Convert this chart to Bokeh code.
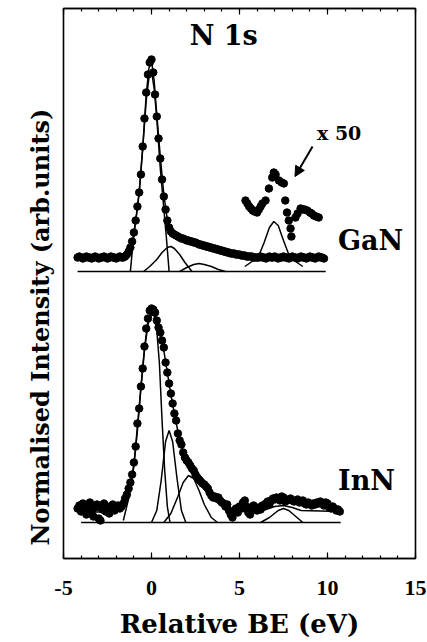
from bokeh.plotting import figure
from bokeh.models import (Range1d, LinearAxis, SingleIntervalTicker, Label, Arrow,
                          NormalHead, Title, CustomJSTickFormatter)
from bokeh.embed import file_html
from bokeh.resources import INLINE

# ---------------- data (relative BE in eV, intensity in arbitrary units) -------------
x_ticks_interval = 5

# GaN experimental points (energy grid 0.1 eV)
gan_x = [round(-4.2 + 0.1 * i, 1) for i in range(141)]
gan_y = [301, 302, 301, 300, 301, 302, 301, 301, 300, 301, 302, 301, 300, 301, 301, 302,
         301, 300, 301, 302, 301, 301, 300, 301, 302, 301, 301,
         302, 304, 307, 311, 317, 326, 338, 352, 366, 384, 412, 440, 466, 484, 496, 499,
         486, 464, 442, 420, 400, 379, 362, 349, 338, 331, 327, 325, 324, 323, 322, 321,
         320, 320, 319, 318,
         318, 317, 317, 316, 316, 315, 314, 314, 313, 313, 312, 312, 311, 311, 310, 310,
         309, 309, 308, 308,
         307, 307, 306, 306, 305, 305, 305, 304, 304, 304, 303, 303, 303, 302, 302, 302,
         302, 301, 301, 301,
         301, 302, 301, 301, 300, 301, 302, 301, 301, 302, 301, 300, 301, 301, 302, 301,
         301, 300, 301, 302, 301, 301, 300, 301, 302, 301, 301, 300, 301, 302, 301, 301,
         300, 301, 302, 301, 301, 300]

# GaN satellite region magnified x50
gan_x50_x = [5.34, 5.45, 5.55, 5.65, 5.75, 5.85, 6.0, 6.1, 6.2, 6.3, 6.48, 6.67, 6.86,
             6.95, 7.05, 7.24, 7.4, 7.52, 7.6, 7.7, 7.8, 7.9, 7.95, 8.18, 8.3, 8.47, 8.6,
             8.7, 8.85, 9.0, 9.1, 9.22, 9.35, 9.5]
gan_x50_y = [358, 355, 352, 350, 348, 347, 346, 349, 352, 355, 358, 370, 381, 386, 384,
             378, 376, 375, 358, 346, 338, 330, 322, 341, 345, 350, 349, 349, 348, 346,
             345, 343, 342, 341]

# GaN fit envelope and components
gan_fit_x = [-4.2, -1.6, -1.3, -1.1, -0.9, -0.7, -0.5, -0.3, -0.15, 0.0, 0.15, 0.3, 0.5,
             0.7, 0.9, 1.1, 1.5, 2.0, 3.0, 4.0, 5.0, 6.0, 9.8]
gan_fit_y = [301, 301, 306, 316, 337, 366, 410, 464, 490, 498, 478, 444, 402, 364, 339,
             327, 322, 318, 313, 308, 304, 301, 301]
gan_c1_x = [-1.2, -1.05, -0.9, -0.7, -0.5, -0.3, -0.15, 0.0, 0.15, 0.3, 0.5, 0.7, 0.85, 1.0]
gan_c1_y = [287, 316, 337, 366, 410, 458, 480, 487, 470, 440, 390, 350, 320, 287]
gan_c2_x = [-0.45, -0.1, 0.3, 0.6, 0.9, 1.1, 1.3, 1.6, 1.9, 2.3]
gan_c2_y = [287, 292, 299, 306, 311, 312, 310, 304, 296, 287]
gan_c3_x = [1.6, 2.0, 2.4, 2.7, 3.0, 3.4, 3.8, 4.2]
gan_c3_y = [287, 291, 294, 295, 294, 292, 289, 287]
gan_sat_x = [5.3, 5.8, 6.1, 6.4, 6.7, 6.95, 7.2, 7.5, 7.8, 8.1, 8.6]
gan_sat_y = [292, 298, 303, 316, 331, 337, 333, 318, 304, 298, 292]
gan_base_x = [-4.2, 9.9]
gan_base_y = [287, 287]

# InN experimental points (energy grid 0.1 eV)
inn_x = [round(-4.2 + 0.1 * i, 1) for i in range(150)]
inn_y = [50, 53, 47, 55, 52, 44, 50, 56, 48, 42, 51, 54, 40, 38, 49, 55, 47, 52, 45, 50,
         54, 48, 51, 53, 50, 52,
         55, 60, 64, 70, 76, 84, 96, 112, 135, 150, 172, 190, 212, 230, 240, 248, 250,
         249, 246, 238, 231, 226, 218, 211, 196, 186, 175, 165, 155, 145, 138, 125, 118,
         114, 106, 101, 98,
         96, 93, 90, 88, 84, 81, 79, 77, 75, 74, 72, 70, 66, 63, 61, 62, 60, 61, 58, 56,
         55, 52, 54, 48, 44, 41, 47, 50, 46, 52, 50, 56, 58, 52, 46, 44, 50, 53, 51, 48,
         51, 49, 53, 52, 55, 57, 54, 58, 60, 59, 61, 60, 58, 62, 61, 57, 58, 59, 60, 58,
         57, 58, 59, 56, 57, 58, 55, 54, 56, 55, 53, 55, 54, 56, 55, 57, 55, 53, 56, 55,
         51, 50, 52, 50, 48, 49, 47]

# InN fit envelope and components
inn_fit_x = [-4.2, -2.0, -1.6, -1.3, -1.0, -0.8, -0.6, -0.4, -0.2, 0.0, 0.15, 0.3, 0.5,
             0.7, 0.9, 1.1, 1.3, 1.5, 1.7, 1.9, 2.2, 2.6, 3.0, 3.5, 4.0, 4.5, 5.0, 6.0,
             6.5, 7.0, 7.5, 8.0, 8.5, 10.7]
inn_fit_y = [46, 47, 53, 66, 94, 132, 172, 210, 238, 248, 247, 238, 224, 208, 186, 164,
             145, 127, 112, 102, 94, 82, 73, 63, 55, 50, 47, 47, 49, 52, 53, 51, 48, 47]
inn_c1_x = [-1.6, -1.3, -1.0, -0.8, -0.6, -0.4, -0.2, 0.0, 0.15, 0.3, 0.45, 0.6, 0.75,
            0.9, 1.05]
inn_c1_y = [38, 60, 92, 128, 170, 208, 234, 244, 243, 228, 195, 138, 88, 52, 36]
inn_c2_x = [0.0, 0.3, 0.55, 0.8, 1.0, 1.2, 1.45, 1.7, 1.95]
inn_c2_y = [36, 48, 78, 117, 128, 117, 80, 48, 36]
inn_c3_x = [0.7, 1.1, 1.5, 1.8, 2.1, 2.4, 2.7, 3.0, 3.4, 3.75]
inn_c3_y = [36, 45, 62, 76, 83, 80, 68, 54, 41, 36]
inn_sat_x = [6.2, 6.7, 7.2, 7.5, 7.8, 8.2, 8.6]
inn_sat_y = [36, 41, 48, 50, 48, 42, 36]
inn_base_x = [-4.0, 10.75]
inn_base_y = [36, 36]

# annotation texts and anchor positions (data units)
title_text, title_pos = "N 1s", (4.1, 523)
gan_text, gan_pos = "GaN", (10.6, 318)
inn_text, inn_pos = "InN", (10.6, 78)
mag_text, mag_pos = "x 50", (9.4, 426)
arrow_from, arrow_to = (9.15, 412), (8.15, 382)
xlabel_text = "Relative BE (eV)"
ylabel_text = "Normalised Intensity (arb.units)"

SERIF = "DejaVu Serif"
TICKFONT = "Liberation Serif"

# ---------------- figure ----------------
p = figure(width=427, height=642, output_backend="svg", toolbar_location=None,
           x_range=Range1d(-5, 15), y_range=Range1d(0, 550),
           min_border_left=63, min_border_right=12, min_border_top=8,
           min_border_bottom=84)
p.background_fill_color = "white"
p.border_fill_color = "white"
p.outline_line_color = "black"
p.outline_line_width = 1.6
p.grid.visible = False
p.yaxis.visible = False

xa = p.xaxis[0]
xa.ticker = SingleIntervalTicker(interval=x_ticks_interval, num_minor_ticks=5)
xa.formatter = CustomJSTickFormatter(code="return String(tick);")
xa.major_tick_in = 6
xa.major_tick_out = 0
xa.minor_tick_in = 3
xa.minor_tick_out = 0
xa.axis_line_color = "black"
xa.axis_line_width = 1.6
xa.major_tick_line_width = 1.2
xa.minor_tick_line_width = 1.2
xa.major_label_text_font = TICKFONT
xa.major_label_text_font_style = "bold"
xa.major_label_text_font_size = "22px"
xa.major_label_text_color = "black"
xa.major_label_standoff = 22
xa.axis_label = xlabel_text
xa.axis_label_text_font = SERIF
xa.axis_label_text_font_style = "bold"
xa.axis_label_text_font_size = "26px"
xa.axis_label_text_color = "black"
xa.axis_label_standoff = 11

top = LinearAxis(ticker=SingleIntervalTicker(interval=x_ticks_interval, num_minor_ticks=5),
                 formatter=CustomJSTickFormatter(code="return '';"),
                 major_tick_in=6, major_tick_out=0, minor_tick_in=3, minor_tick_out=0,
                 major_label_standoff=0,
                 axis_line_color="black", axis_line_width=1.6,
                 major_tick_line_width=1.2, minor_tick_line_width=1.2)
p.add_layout(top, "above")

# y axis title, placed in the left border
p.add_layout(Title(text=ylabel_text, align="left", offset=13, standoff=17,
                   text_font=SERIF, text_font_style="bold", text_font_size="24px",
                   text_color="black"), "left")

# ---------------- GaN ----------------
for xs, ys in [(gan_base_x, gan_base_y), (gan_c1_x, gan_c1_y), (gan_c2_x, gan_c2_y),
               (gan_c3_x, gan_c3_y), (gan_sat_x, gan_sat_y), (gan_fit_x, gan_fit_y)]:
    p.line(xs, ys, line_color="black", line_width=1.5)
p.scatter(gan_x, gan_y, size=7.5, fill_color="black", line_color="black")
p.scatter(gan_x50_x, gan_x50_y, size=7.5, fill_color="black", line_color="black")

# ---------------- InN ----------------
for xs, ys in [(inn_base_x, inn_base_y), (inn_c1_x, inn_c1_y), (inn_c2_x, inn_c2_y),
               (inn_c3_x, inn_c3_y), (inn_sat_x, inn_sat_y), (inn_fit_x, inn_fit_y)]:
    p.line(xs, ys, line_color="black", line_width=1.5)
p.scatter(inn_x, inn_y, size=7.5, fill_color="black", line_color="black")

# ---------------- annotations ----------------
def lab(text, pos, size, align="left"):
    p.add_layout(Label(x=pos[0], y=pos[1], text=text, text_font=SERIF,
                       text_font_style="bold", text_font_size=size, text_color="black",
                       text_align=align, text_baseline="middle"))

lab(title_text, title_pos, "27px", align="center")
lab(gan_text, gan_pos, "27px")
lab(inn_text, inn_pos, "27px")
lab(mag_text, mag_pos, "19px")

p.add_layout(Arrow(end=NormalHead(size=10, fill_color="black", line_color="black"),
                   x_start=arrow_from[0], y_start=arrow_from[1],
                   x_end=arrow_to[0], y_end=arrow_to[1],
                   line_color="black", line_width=2))

open("out.html", "w").write(file_html(p, INLINE))
